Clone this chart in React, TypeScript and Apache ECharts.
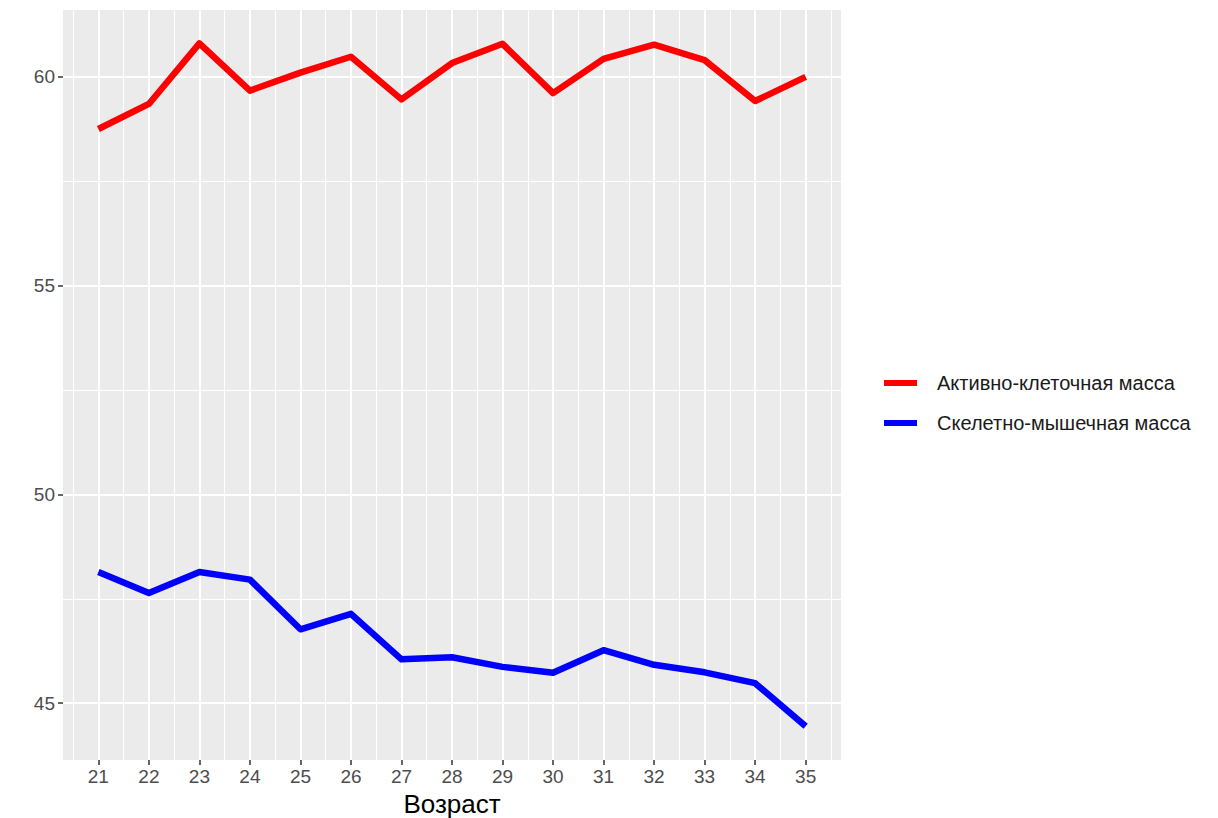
import React, { useEffect, useRef } from "react";
import * as echarts from "echarts";

const ages = [21, 22, 23, 24, 25, 26, 27, 28, 29, 30, 31, 32, 33, 34, 35];
const activeCellMass = [58.75, 59.35, 60.8, 59.67, 60.1, 60.48, 59.46, 60.33, 60.79, 59.61, 60.43, 60.77, 60.4, 59.42, 60.0];
const skeletalMuscleMass = [48.14, 47.64, 48.14, 47.96, 46.77, 47.14, 46.05, 46.1, 45.87, 45.73, 46.27, 45.92, 45.74, 45.48, 44.45];
const seriesNames = ["Активно-клеточная масса", "Скелетно-мышечная масса"];
const xTicks = [21, 22, 23, 24, 25, 26, 27, 28, 29, 30, 31, 32, 33, 34, 35];
const xMinor = [20.5, 21.5, 22.5, 23.5, 24.5, 25.5, 26.5, 27.5, 28.5, 29.5, 30.5, 31.5, 32.5, 33.5, 34.5, 35.5];
const yTicks = [45, 50, 55, 60];
const yMinor = [47.5, 52.5, 57.5];
const xTitle = "Возраст";

export default function App() {
  const ref = useRef<HTMLDivElement>(null);
  useEffect(() => {
    if (!ref.current) return;
    const chart = echarts.init(ref.current, null, { renderer: "svg" });
    const font = "'Liberation Sans', Arial, Helvetica, sans-serif";
    const gridLines = [
      ...xMinor.map((v) => ({ xAxis: v, lineStyle: { width: 1 } })),
      ...xTicks.map((v) => ({ xAxis: v, lineStyle: { width: 2 } })),
      ...yMinor.map((v) => ({ yAxis: v, lineStyle: { width: 1 } })),
      ...yTicks.map((v) => ({ yAxis: v, lineStyle: { width: 2 } })),
    ];
    chart.setOption({
      animation: false,
      backgroundColor: "#ffffff",
      textStyle: { fontFamily: font },
      grid: {
        left: 63,
        right: 377,
        top: 10,
        bottom: 58,
        show: true,
        backgroundColor: "#ebebeb",
        borderWidth: 0,
        containLabel: false,
        outerBoundsMode: "none",
      },
      legend: {
        orient: "vertical",
        left: 879,
        top: 368,
        data: seriesNames,
        icon: "rect",
        itemWidth: 33,
        itemHeight: 6,
        itemGap: 20,
        textStyle: {
          fontFamily: font,
          fontSize: 20,
          color: "#1a1a1a",
          padding: [0, 0, 0, 15],
        },
      },
      xAxis: {
        type: "value",
        min: 20.3,
        max: 35.7,
        name: xTitle,
        nameLocation: "middle",
        nameGap: 30,
        nameTextStyle: { fontSize: 26, color: "#000000", fontFamily: font },
        axisLine: { show: false },
        axisTick: {
          show: true,
          customValues: xTicks,
          length: 5,
          lineStyle: { color: "#333333", width: 1.5 },
        },
        axisLabel: {
          customValues: xTicks,
          fontSize: 19,
          color: "#4d4d4d",
          margin: 7,
          fontFamily: font,
        },
        splitLine: { show: false },
      },
      yAxis: {
        type: "value",
        min: 43.64,
        max: 61.6,
        axisLine: { show: false },
        axisTick: {
          show: true,
          customValues: yTicks,
          length: 5,
          lineStyle: { color: "#333333", width: 1.5 },
        },
        axisLabel: {
          customValues: yTicks,
          fontSize: 19,
          color: "#4d4d4d",
          margin: 8,
          fontFamily: font,
        },
        splitLine: { show: false },
      },
      series: [
        {
          type: "line",
          name: "grid",
          data: [],
          z: 1,
          silent: true,
          markLine: {
            z: 1,
            silent: true,
            symbol: ["none", "none"],
            label: { show: false },
            emphasis: { disabled: true },
            lineStyle: { color: "#ffffff", type: "solid" },
            data: gridLines,
          },
        },
        {
          type: "line",
          name: seriesNames[0],
          data: ages.map((a, i) => [a, activeCellMass[i]]),
          showSymbol: false,
          symbol: "none",
          color: "#ff0000",
          lineStyle: { color: "#ff0000", width: 6.5, join: "round" },
          z: 10,
        },
        {
          type: "line",
          name: seriesNames[1],
          data: ages.map((a, i) => [a, skeletalMuscleMass[i]]),
          showSymbol: false,
          symbol: "none",
          color: "#0000ff",
          lineStyle: { color: "#0000ff", width: 6.5, join: "round" },
          z: 10,
        },
      ],
    });
    return () => chart.dispose();
  }, []);
  return (
    <div
      ref={ref}
      style={{ position: "absolute", left: 0, top: 0, width: 1218, height: 818 }}
    />
  );
}
